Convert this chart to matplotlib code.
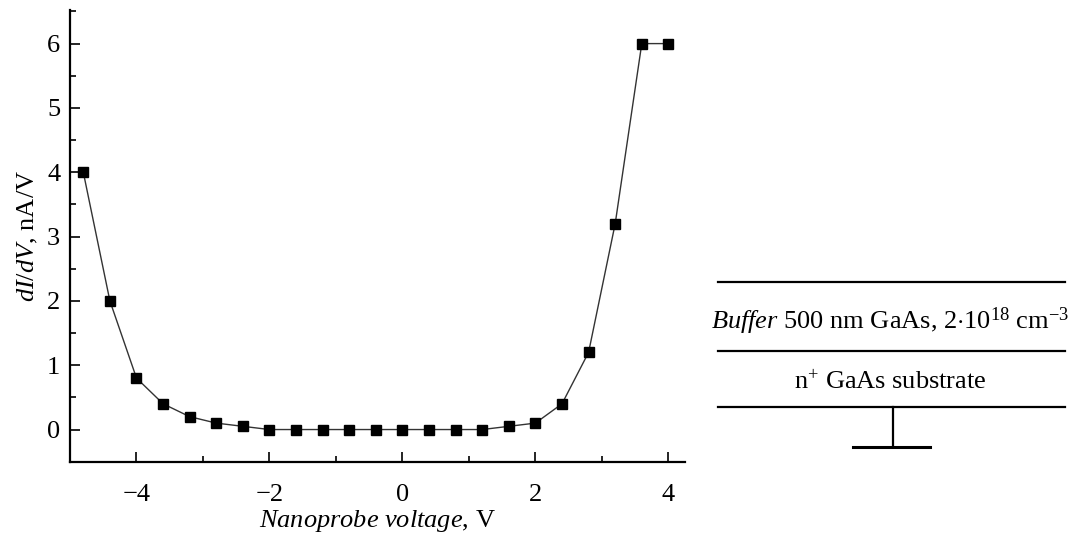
import matplotlib
matplotlib.use("Agg")
import matplotlib.pyplot as plt
from matplotlib.ticker import MultipleLocator

# measured dI/dV vs nanoprobe voltage
voltage = [-4.8, -4.4, -4.0, -3.6, -3.2, -2.8, -2.4, -2.0, -1.6, -1.2, -0.8, -0.4,
           0.0, 0.4, 0.8, 1.2, 1.6, 2.0, 2.4, 2.8, 3.2, 3.6, 4.0]
didv = [4.0, 2.0, 0.8, 0.4, 0.2, 0.1, 0.05, 0.0, 0.0, 0.0, 0.0, 0.0,
        0.0, 0.0, 0.0, 0.0, 0.05, 0.1, 0.4, 1.2, 3.2, 6.0, 6.0]

x_ticks = [-4, -2, 0, 2, 4]
y_ticks = [0, 1, 2, 3, 4, 5, 6]

layer_labels = [r"$\mathit{Buffer}$ 500 nm GaAs, 2$\cdot$10$^{18}$ cm$^{-3}$",
                r"n$^{+}$ GaAs substrate"]

plt.rcParams["font.family"] = ["Liberation Serif", "DejaVu Serif"]
plt.rcParams["mathtext.fontset"] = "custom"
plt.rcParams["mathtext.rm"] = "Liberation Serif"
plt.rcParams["mathtext.it"] = "Liberation Serif:italic"
plt.rcParams["mathtext.bf"] = "Liberation Serif:bold"

FS = 19

fig = plt.figure(figsize=(10.75, 5.37), dpi=100)
W, H = 1075, 537
ax = fig.add_axes([70 / W, 1 - 461.7 / H, (685 - 70) / W, (461.7 - 9.5) / H])

ax.plot(voltage, didv, color="#333333", lw=1.0, marker="s", ms=7.5,
        mfc="black", mec="black")

ax.set_xlim(-5.0, 4.25)
ax.set_ylim(-0.5, 6.53)
ax.set_xticks(x_ticks)
ax.set_yticks(y_ticks)
ax.xaxis.set_minor_locator(MultipleLocator(1))
ax.yaxis.set_minor_locator(MultipleLocator(0.5))
ax.tick_params(which="both", direction="in", labelsize=FS, width=1.2,
               top=False, right=False)
ax.tick_params(axis="x", which="both", pad=16)
ax.tick_params(axis="y", which="both", pad=7)
ax.tick_params(which="major", length=7)
ax.tick_params(which="minor", length=4)
for s in ["top", "right"]:
    ax.spines[s].set_visible(False)
for s in ["left", "bottom"]:
    ax.spines[s].set_linewidth(1.6)

ax.set_xlabel(r"$Nanoprobe\ voltage$, V", fontsize=FS, labelpad=1.5)
ax.set_ylabel(r"$dI/dV$, nA/V", fontsize=FS, labelpad=5)

# layer structure sketch on the right (pixel coordinates)
sk = fig.add_axes([0, 0, 1, 1])
sk.set_xlim(0, W)
sk.set_ylim(H, 0)
sk.axis("off")
for yy in [282.3, 351, 406.7]:
    sk.plot([718, 1065], [yy, yy], color="black", lw=1.6)
sk.plot([893.3, 893.3], [406.7, 446.7], color="black", lw=1.6)
sk.plot([853, 930], [446.7, 446.7], color="black", lw=2.2)
sk.text(890, 321, layer_labels[0], ha="center", va="center", fontsize=FS)
sk.text(890, 382, layer_labels[1], ha="center", va="center", fontsize=FS)

fig.savefig("out.png", dpi=100)
